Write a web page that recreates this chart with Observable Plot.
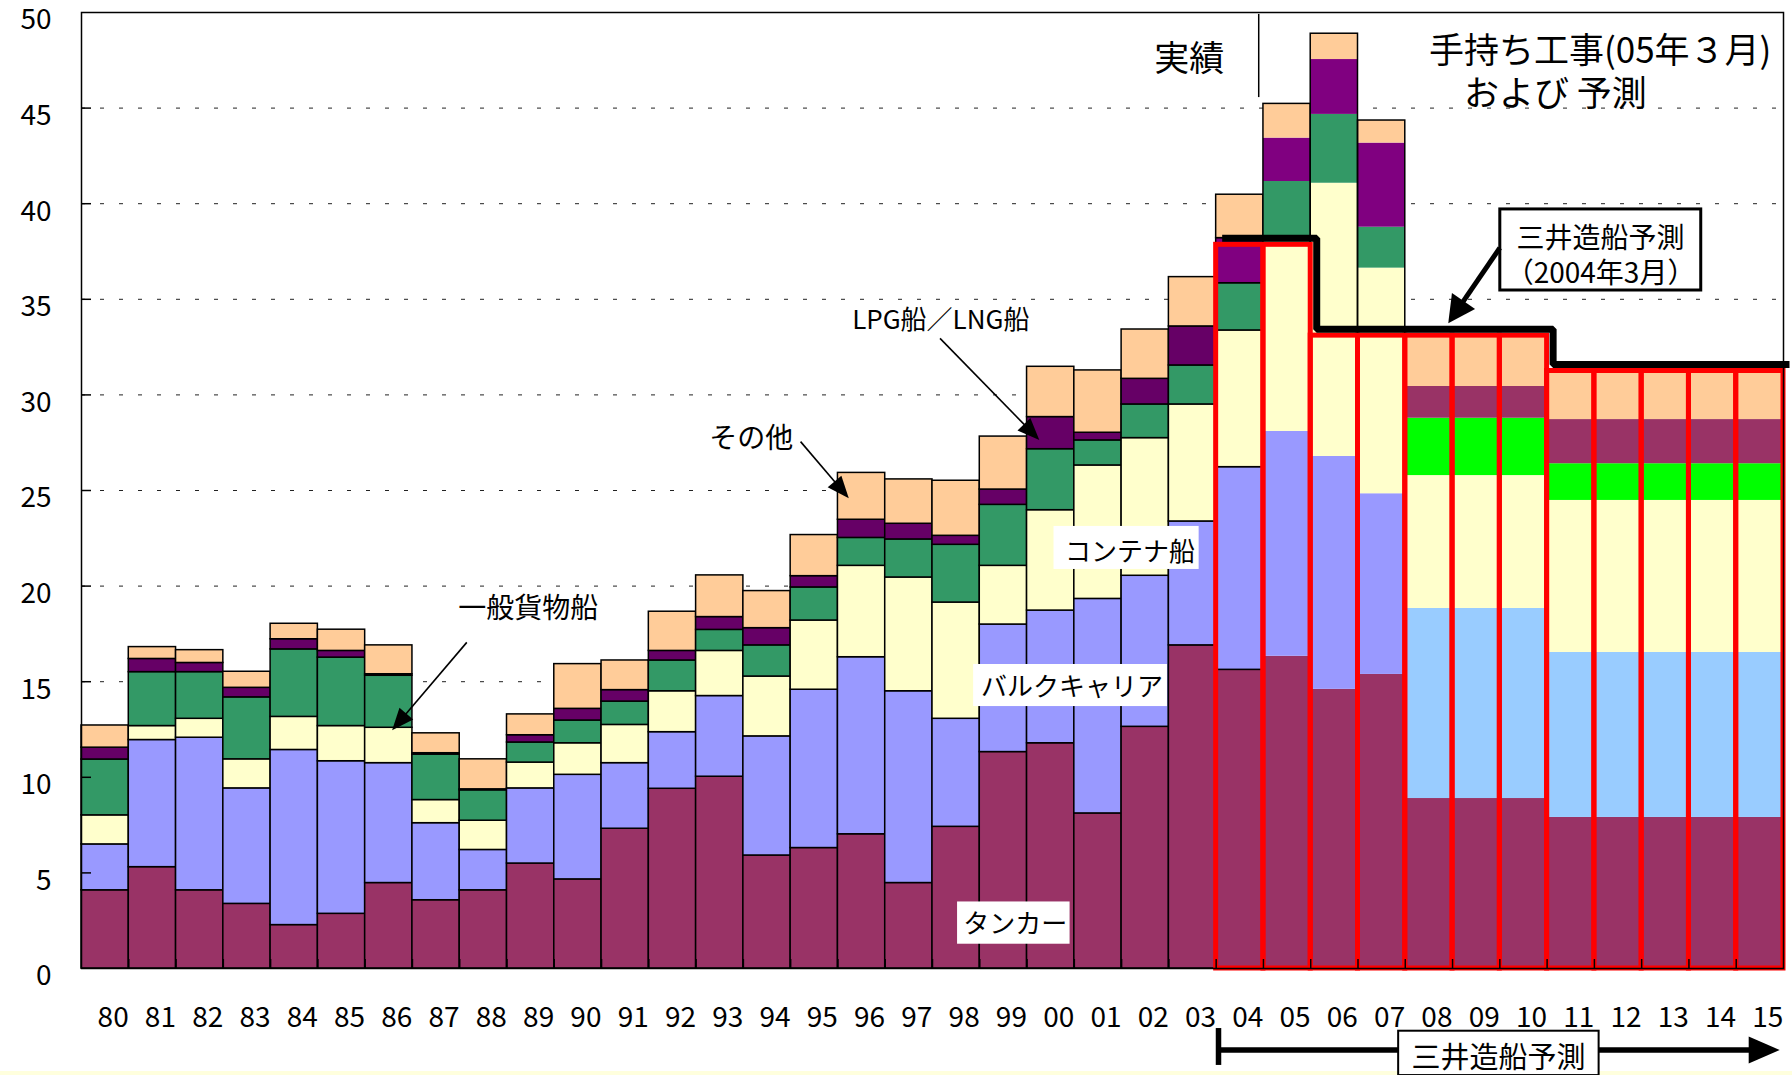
<!DOCTYPE html>
<html>
<head>
<meta charset="utf-8">
<script src="https://cdn.jsdelivr.net/npm/d3@7"></script>
<script src="https://cdn.jsdelivr.net/npm/@observablehq/plot@0.6"></script>
<style>
  html, body { margin: 0; padding: 0; background: #fff; }
  #strip { width: 1792px; height: 4px; background: #FFFFDD; }
</style>
</head>
<body>
<div id="chart"></div>
<div id="strip"></div>
<script>
// ---- data ----
const years = ["80","81","82","83","84","85","86","87","88","89",
               "90","91","92","93","94","95","96","97","98","99",
               "00","01","02","03","04","05","06","07","08","09",
               "10","11","12","13","14","15"];
const shipTypes = ["タンカー","バルクキャリア","コンテナ船","一般貨物船","LPG船/LNG船","その他"];

// 80-03: actual, 04-07: order book (Mar 2005), 08-15: Mitsui forecast breakdown
const tanker    = [4.09,5.30,4.09,3.38,2.27,2.86,4.47,3.57,4.09,5.49,4.66,7.31,9.40,10.03,5.91,6.30,7.02,4.47,7.41,11.32,11.78,8.11,12.64,16.90,15.62,16.33,14.60,15.38,8.89,8.89,8.89,7.90,7.90,7.90,7.90,7.90];
const bulk      = [2.40,6.65,7.98,6.04,9.16,7.98,6.27,4.03,2.11,3.93,5.47,3.43,2.96,4.22,6.23,8.28,9.26,10.03,5.65,6.67,6.94,11.22,7.90,6.48,10.60,11.76,12.18,9.45,9.94,9.94,9.94,8.63,8.63,8.63,8.63,8.63];
const container = [1.52,0.73,0.99,1.52,1.73,1.84,1.85,1.21,1.53,1.35,1.65,2.00,2.14,2.36,3.13,3.62,4.78,5.95,6.08,3.07,5.25,6.98,7.20,6.12,7.15,9.91,14.29,11.80,6.95,6.95,6.95,7.95,7.95,7.95,7.95,7.95];
const general   = [2.92,2.82,2.44,3.24,3.53,3.58,2.72,2.38,1.59,1.05,1.19,1.22,1.61,1.10,1.63,1.73,1.46,1.99,3.02,3.19,3.19,1.31,1.76,2.04,2.47,3.16,3.60,2.14,3.00,3.00,3.00,1.92,1.92,1.92,1.92,1.92];
const lpg       = [0.62,0.69,0.48,0.50,0.53,0.35,0.08,0.07,0.05,0.38,0.61,0.60,0.50,0.67,0.90,0.59,0.95,0.82,0.47,0.80,1.68,0.40,1.34,2.04,2.36,2.27,2.87,4.40,1.66,1.66,1.66,2.31,2.31,2.31,2.31,2.31];
const other     = [1.16,0.62,0.67,0.84,0.81,1.11,1.51,1.04,1.57,1.09,2.34,1.55,2.05,2.18,1.94,2.15,2.45,2.32,2.88,2.77,2.63,3.26,2.58,2.58,2.27,1.79,1.35,1.18,2.66,2.66,2.66,2.54,2.54,2.54,2.54,2.54];

// Mitsui forecast (March 2004), years 04-15
const mitsuiYears    = ["04","05","06","07","08","09","10","11","12","13","14","15"];
const mitsuiForecast = [37.85,37.85,33.10,33.10,33.10,33.10,33.10,31.25,31.25,31.25,31.25,31.25];

const yTicks = [0,5,10,15,20,25,30,35,40,45,50];

// ---- derived tables ----
const series = [tanker, bulk, container, general, lpg, other];
const palette = {
  actual:    ["#993366","#9999FF","#FFFFCC","#339966","#660066","#FFCC99"],
  orderbook: ["#993366","#9999FF","#FFFFCC","#339966","#800080","#FFCC99"],
  forecast:  ["#993366","#99CCFF","#FFFFCC","#00FF00","#993366","#FFCC99"]
};
const iOf = y => years.indexOf(y);
const firstOrder = iOf("04"), firstForecast = iOf("08");
const phase = i => i < firstOrder ? "actual" : i < firstForecast ? "orderbook" : "forecast";

const rows = [];
years.forEach((yr, i) => {
  let cum = 0;
  series.forEach((arr, k) => {
    rows.push({i, k, type: shipTypes[k], y1: cum, y2: cum + arr[i]});
    cum += arr[i];
  });
});
const totals = years.map((yr, i) => ({i, total: d3.sum(series, a => a[i])}));
const mitsuiRows = mitsuiYears.map((yr, j) => ({i: iOf(yr), v: mitsuiForecast[j]}));
const stepPts = mitsuiRows.flatMap(d => [{x: d.i - 0.5, y: d.v}, {x: d.i + 0.5, y: d.v}]);

const fillOf = d => palette[phase(d.i)][d.k];
const bx1 = d => d.i - 0.5, bx2 = d => d.i + 0.5;

const labelBoxes = [
  {text: "コンテナ船",     x1: 20.07, x2: 23.14, y1: 20.87, y2: 23.12, tx: 21.68, ty: 21.75},
  {text: "バルクキャリア", x1: 18.37, x2: 22.47, y1: 13.70, y2: 15.90, tx: 20.45, ty: 14.70},
  {text: "タンカー",       x1: 18.03, x2: 20.41, y1: 1.27,  y2: 3.48,  tx: 19.25, ty: 2.30}
];

const font = "'Noto Sans CJK JP', 'Noto Sans', sans-serif";

const chart = Plot.plot({
  width: 1792,
  height: 1071,
  marginLeft: 81,
  marginRight: 9,
  marginTop: 12,
  marginBottom: 103,
  x: {type: "linear", domain: [-0.5, 35.5], axis: null, label: null},
  y: {domain: [0, 50], axis: null, label: null},
  color: {type: "identity"},
  style: {fontFamily: font, fontSize: "28px", color: "#000", background: "#fff", overflow: "visible"},
  marks: [
    Plot.gridY(d3.range(5, 50, 5), {stroke: "#222", strokeOpacity: 1, strokeWidth: 1, strokeDasharray: "4,15"}),
    // actual bars (with segment borders)
    Plot.rect(rows.filter(d => d.i <= firstOrder), {x1: bx1, x2: bx2, y1: "y1", y2: "y2", fill: fillOf, stroke: "#000", strokeWidth: 1.5}),
    // order book and forecast bars (no segment borders)
    Plot.rect(rows.filter(d => d.i > firstOrder), {x1: bx1, x2: bx2, y1: "y1", y2: "y2", fill: fillOf}),
    Plot.rect(totals.filter(d => d.i > firstOrder && d.i < firstForecast), {x1: bx1, x2: bx2, y1: 0, y2: "total", fill: "none", stroke: "#000", strokeWidth: 1.5}),
    // Mitsui forecast boxes and step line
    Plot.rect(mitsuiRows, {x1: bx1, x2: bx2, y1: 0, y2: "v", fill: "none", stroke: "#FF0000", strokeWidth: 5}),
    Plot.line(stepPts, {x: "x", y: "y", stroke: "#000", strokeWidth: 7, dx: 6, dy: -6.5, strokeLinejoin: "miter", strokeLinecap: "butt"}),
    Plot.frame({stroke: "#000", strokeWidth: 1.5}),
    // axes
    Plot.axisY(yTicks, {tickSize: 0, tickPadding: 30, dy: 8, fontSize: 28, label: null}),
    Plot.axisY(yTicks.slice(1, -1), {tickSize: -10, tickFormat: () => "", strokeWidth: 1.5, label: null}),
    Plot.axisX(d3.range(years.length), {tickSize: 0, tickPadding: 39, dx: 8, fontSize: 28, tickFormat: i => years[i], label: null}),
    Plot.axisX(d3.range(years.length - 1).map(i => i + 0.5), {tickSize: -9, tickFormat: () => "", strokeWidth: 1.5, label: null}),
    // annotations
    Plot.ruleX([24.4], {y1: 45.55, y2: 49.9, stroke: "#000", strokeWidth: 1.5}),
    Plot.text(["実績"], {x: 22.93, y: 47.54, text: d => d, fontSize: 35, textAnchor: "middle"}),
    Plot.text(["手持ち工事(05年３月)\n　および 予測"], {x: 28.0, y: 46.97, text: d => d, fontSize: 35, lineHeight: 1.25, textAnchor: "start"}),
    Plot.rect([0], {x1: 29.51, x2: 33.76, y1: 35.46, y2: 39.70, fill: "#fff", stroke: "#000", strokeWidth: 3}),
    Plot.text(["三井造船予測\n（2004年3月）"], {x: 31.63, y: 37.37, text: d => d, fontSize: 28, lineHeight: 1.28}),
    Plot.text(["LPG船／LNG船"], {x: 15.8, y: 33.9, text: d => d, fontSize: 26, textAnchor: "start"}),
    Plot.text(["その他"], {x: 12.78, y: 27.67, text: d => d, fontSize: 28, textAnchor: "start"}),
    Plot.text(["一般貨物船"], {x: 7.47, y: 18.78, text: d => d, fontSize: 28, textAnchor: "start"}),
    Plot.rect(labelBoxes, {x1: "x1", x2: "x2", y1: "y1", y2: "y2", fill: "#fff"}),
    Plot.text(labelBoxes, {x: "tx", y: "ty", text: "text", fontSize: 26})
  ]
});

document.getElementById("chart").appendChild(chart);

// ---- arrows and bottom annotation, placed through the plot's scales ----
const xs = chart.scale("x"), ys = chart.scale("y");
const px = ([i, v]) => [xs.apply(i), ys.apply(v)];
const g = d3.select(chart).append("g").attr("class", "annotations");
function arrow(a, b, w, hl, hw) {
  const [x1, y1] = px(a), [x2, y2] = px(b);
  const L = Math.hypot(x2 - x1, y2 - y1), ux = (x2 - x1) / L, uy = (y2 - y1) / L;
  const bxp = x2 - ux * hl, byp = y2 - uy * hl;
  g.append("line").attr("x1", x1).attr("y1", y1).attr("x2", bxp + ux * 2).attr("y2", byp + uy * 2)
    .attr("stroke", "#000").attr("stroke-width", w);
  g.append("path")
    .attr("d", `M${x2},${y2}L${bxp - uy * hw},${byp + ux * hw}L${bxp + uy * hw},${byp - ux * hw}Z`)
    .attr("fill", "#000");
}
arrow([7.66, 17.03], [6.08, 12.43], 1.6, 22, 9);
arrow([14.72, 27.53], [15.74, 24.57], 1.6, 22, 9);
arrow([17.67, 32.93], [19.77, 27.62], 1.6, 22, 9);
arrow([29.51, 37.66], [28.42, 33.72], 5, 27, 14);

// bottom: 三井造船予測 range arrow
arrow([23.56, -4.29], [35.43, -4.29], 5.3, 31, 13.5);
{
  const [cx, cy1] = px([23.56, -3.14]), [, cy2] = px([23.56, -5.07]);
  g.append("line").attr("x1", cx).attr("x2", cx).attr("y1", cy1).attr("y2", cy2)
    .attr("stroke", "#000").attr("stroke-width", 5.5);
  const [r1x, r1y] = px([27.36, -3.28]), [r2x, r2y] = px([31.6, -5.6]);
  g.append("rect").attr("x", r1x).attr("y", r1y).attr("width", r2x - r1x).attr("height", r2y - r1y)
    .attr("fill", "#fff").attr("stroke", "#000").attr("stroke-width", 2);
  const [tx, ty] = px([29.48, -4.65]);
  g.append("text").attr("x", tx).attr("y", ty).attr("dy", "0.38em").attr("text-anchor", "middle")
    .attr("font-family", font).attr("font-size", 29).attr("fill", "#000").text("三井造船予測");
}
</script>
</body>
</html>
